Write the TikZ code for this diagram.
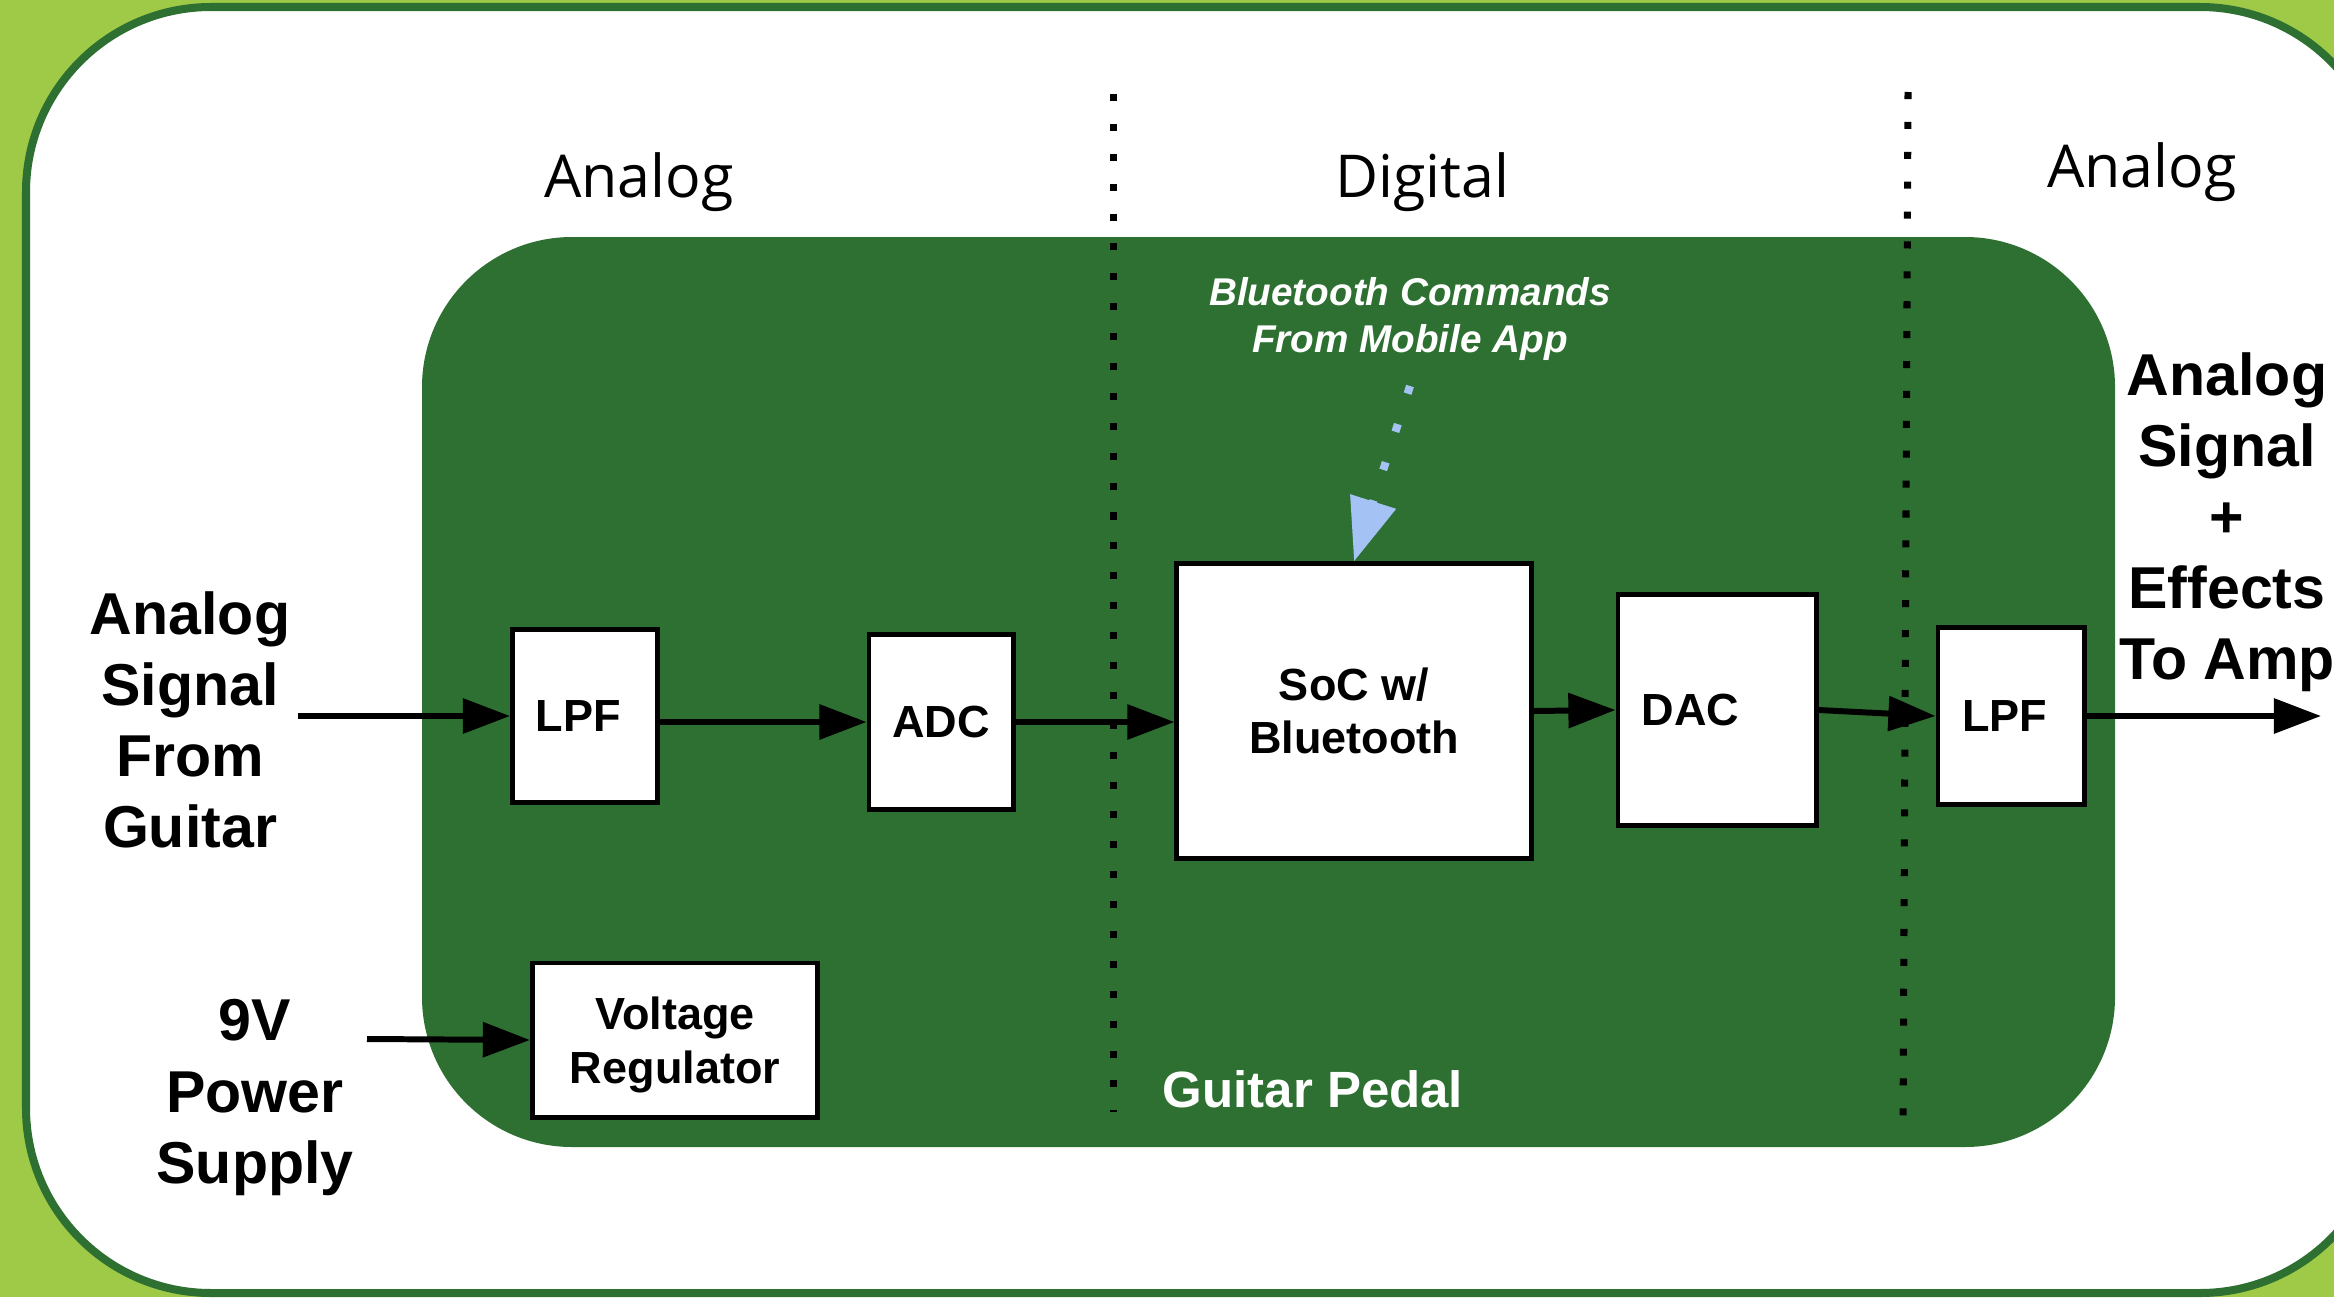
\documentclass[tikz,border=0pt]{standalone}
\usepackage{fontspec}
\setmainfont{Liberation Sans}
\newfontfamily\opensans{Open Sans}
\usetikzlibrary{arrows.meta}
\definecolor{lightgreen}{RGB}{158,202,71}
\definecolor{darkgreen}{RGB}{45,112,50}
\definecolor{btblue}{RGB}{164,194,244}
\tikzset{
 box/.style={draw=black, line width=1.4pt, fill=white, inner sep=0pt, font=\fontsize{12.8}{15.2}\selectfont\bfseries, align=center},
 sig/.style={line width=1.7pt, -{Triangle[length=13.4pt,width=9.7pt]}},
 bigtext/.style={font=\fontsize{16.8}{20.2}\selectfont\bfseries, align=center, inner sep=0pt, anchor=north},
 header/.style={font=\opensans\fontsize{16.8}{20}\selectfont, inner sep=0pt, anchor=base},
 divider/.style={line width=2pt, dash pattern=on 2pt off 6.5pt},
 btarrow/.style={btblue, line width=2.28pt, dash pattern=on 2.28pt off 9.1pt, -{Triangle[length=17.9pt,width=13.1pt]}},
}
\begin{document}
\begin{tikzpicture}[x=0.01cm, y=-0.01cm]
\useasboundingbox (0,0) rectangle (2334,1297);
\clip (0,0) rectangle (2334,1297);
\fill[lightgreen] (0,0) rectangle (2334,1297);
\draw[darkgreen, fill=white, line width=2.28pt, rounded corners=1.85cm] (26,7) rectangle (2385,1293);
\fill[darkgreen, rounded corners=1.5cm] (422,237) rectangle (2115,1147);

% dividers
\draw[divider] (1113,94) -- (1113,1112);
\draw[divider] (1908,92) -- (1903,1130);

% headers
\node[header] (h1) at (639,197) {Analog};
\node[header] (h2) at (1422,197) {Digital};
\node[header] (h3) at (2142,187) {Analog};

% boxes
\node[box, minimum width=1.45cm, minimum height=1.73cm] (lpf1) at (585,716) {\hspace*{-0.13cm}LPF};
\node[box, minimum width=1.44cm, minimum height=1.75cm] (adc) at (941,722) {ADC};
\node[box, minimum width=3.54cm, minimum height=2.94cm] (soc) at (1354,711) {SoC w/\\Bluetooth};
\node[box, minimum width=1.98cm, minimum height=2.30cm] (dac) at (1717,710) {\makebox[1.5cm][l]{DAC}};
\node[box, minimum width=1.46cm, minimum height=1.76cm] (lpf2) at (2011,716) {\hspace*{-0.13cm}LPF};
\node[box, minimum width=2.85cm, minimum height=1.54cm, text depth=0pt] (vr) at (675,1040) {Voltage\\Regulator};

% outside labels
\node[bigtext] (in) at (190,591) {Analog\\Signal\\From\\Guitar};
\node[bigtext] (pwr) at (255,999) {9V\\Power\\Supply};
\node[bigtext] (out) at (2227,352) {Analog\\Signal\\+\\Effects\\To Amp};
\node[font=\fontsize{11}{13.4}\selectfont\bfseries\itshape, text=white, align=center, inner sep=0pt, anchor=north] (bt) at (1410,277) {Bluetooth Commands\\From Mobile App};
\node[font=\fontsize{14.5}{17}\selectfont\bfseries, text=white, inner sep=0pt, anchor=base west] (gp) at (1162,1107) {Guitar Pedal};

% connectors
\coordinate (inS) at (298,716);
\coordinate (outE) at (2321,716);
\coordinate (pwrS) at (367,1039);
\coordinate (btS) at (1410,386);
\draw[sig] (inS) -- (lpf1.west);
\draw[sig] (lpf1.east |- adc.west) -- (adc.west);
\draw[sig] (adc.east) -- (adc.east -| soc.west);
\draw[sig] (soc.east) -- (dac.west);
\draw[sig] (dac.east) -- (lpf2.west);
\draw[sig] (lpf2.east) -- (outE);
\draw[sig] (pwrS) -- (vr.west);
\draw[btarrow] (btS) -- (soc.north);
\end{tikzpicture}
\end{document}
